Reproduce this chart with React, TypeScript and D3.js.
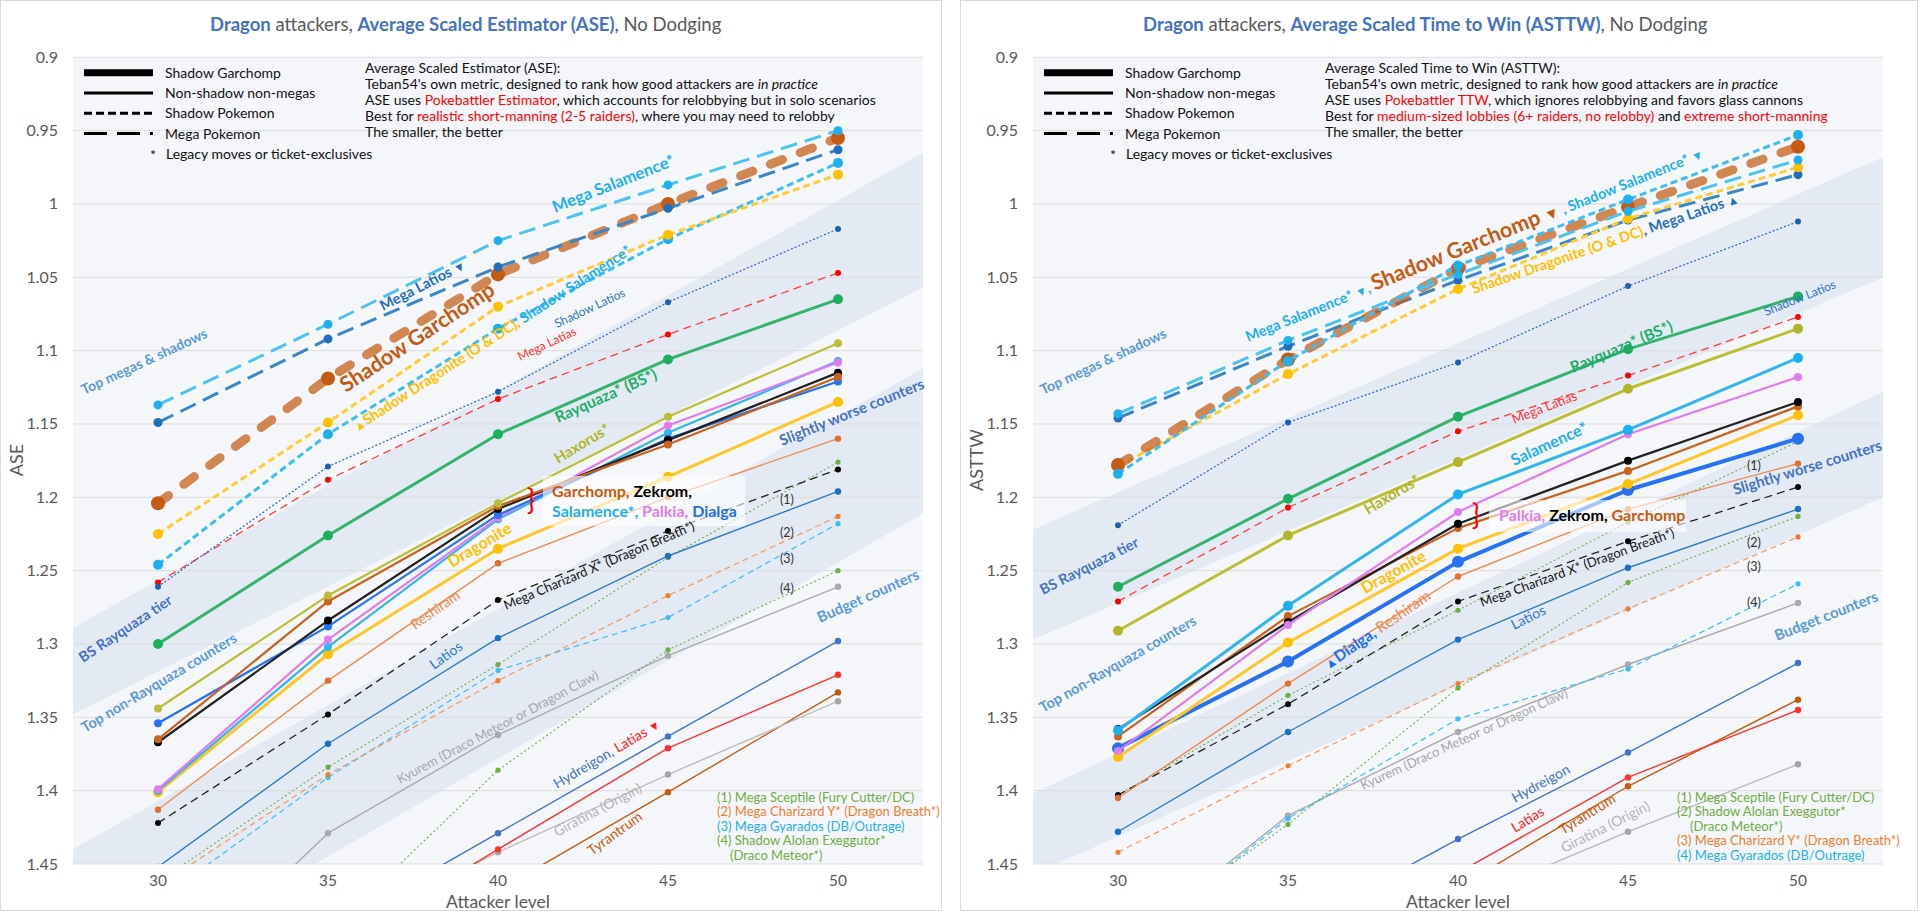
import React from "react";
import * as d3 from "d3";

// ---------- DATA ----------
const levels = [30, 35, 40, 45, 50];
const xTickLabels = ["30", "35", "40", "45", "50"];
const yTickValues = [0.9, 0.95, 1, 1.05, 1.1, 1.15, 1.2, 1.25, 1.3, 1.35, 1.4, 1.45];

// ASE (left chart)
const aseMegaSalamence = [1.137, 1.082, 1.025, 0.987, 0.95];
const aseMegaLatios = [1.149, 1.092, 1.043, 1.003, 0.963];
const aseShadowGarchomp = [1.204, 1.119, 1.048, 1.0, 0.955];
const aseShadowDragonite = [1.225, 1.149, 1.07, 1.021, 0.98];
const aseShadowSalamence = [1.246, 1.157, 1.085, 1.024, 0.972];
const aseShadowLatios = [1.261, 1.179, 1.128, 1.067, 1.017];
const aseMegaLatias = [1.258, 1.188, 1.133, 1.089, 1.047];
const aseRayquaza = [1.3, 1.226, 1.157, 1.106, 1.065];
const aseHaxorus = [1.344, 1.267, 1.204, 1.145, 1.095];
const aseGarchomp = [1.365, 1.271, 1.206, 1.164, 1.118];
const aseZekrom = [1.367, 1.284, 1.208, 1.161, 1.115];
const aseDialga = [1.354, 1.288, 1.212, 1.16, 1.121];
const asePalkia = [1.399, 1.297, 1.214, 1.151, 1.108];
const aseSalamence = [1.4, 1.302, 1.215, 1.156, 1.107];
const aseDragonite = [1.401, 1.307, 1.235, 1.186, 1.135];
const aseReshiram = [1.413, 1.325, 1.245, 1.2, 1.16];
const aseMegaCharizardX = [1.422, 1.348, 1.27, 1.223, 1.181];
const aseLatios = [1.452, 1.368, 1.296, 1.24, 1.196];
const aseMegaSceptile = [1.462, 1.384, 1.314, 1.241, 1.176];
const aseMegaCharizardY = [1.465, 1.389, 1.325, 1.267, 1.213];
const aseMegaGyarados = [1.475, 1.391, 1.318, 1.282, 1.218];
const aseShadowExeggutor = [1.6, 1.497, 1.386, 1.304, 1.25];
const aseKyurem = [1.54, 1.429, 1.362, 1.308, 1.261];
const aseHydreigon = [1.56, 1.495, 1.429, 1.363, 1.298];
const aseLatias = [1.58, 1.51, 1.44, 1.371, 1.321];
const aseGiratina = [1.57, 1.5, 1.442, 1.389, 1.339];
const aseTyrantrum = [1.61, 1.54, 1.468, 1.401, 1.333];

// ASTTW (right chart)
const asttwMegaSalamence = [1.143, 1.093, 1.048, 1.005, 0.97];
const asttwMegaLatios = [1.146, 1.097, 1.052, 1.011, 0.98];
const asttwShadowGarchomp = [1.178, 1.106, 1.044, 1.002, 0.961];
const asttwShadowDragonite = [1.179, 1.116, 1.058, 1.01, 0.975];
const asttwShadowSalamence = [1.184, 1.107, 1.042, 0.997, 0.953];
const asttwShadowLatios = [1.219, 1.149, 1.108, 1.056, 1.012];
const asttwMegaLatias = [1.271, 1.207, 1.155, 1.117, 1.077];
const asttwRayquaza = [1.261, 1.201, 1.145, 1.099, 1.063];
const asttwHaxorus = [1.291, 1.226, 1.176, 1.126, 1.085];
const asttwSalamence = [1.359, 1.274, 1.198, 1.154, 1.105];
const asttwPalkia = [1.373, 1.287, 1.21, 1.157, 1.118];
const asttwZekrom = [1.358, 1.285, 1.218, 1.175, 1.135];
const asttwGarchomp = [1.363, 1.281, 1.221, 1.182, 1.138];
const asttwDragonite = [1.377, 1.299, 1.235, 1.191, 1.144];
const asttwDialga = [1.371, 1.312, 1.244, 1.195, 1.16];
const asttwReshiram = [1.405, 1.327, 1.254, 1.208, 1.177];
const asttwMegaCharizardX = [1.403, 1.341, 1.271, 1.23, 1.193];
const asttwLatios = [1.428, 1.36, 1.297, 1.248, 1.208];
const asttwMegaSceptile = [1.403, 1.335, 1.277, 1.217, 1.162];
const asttwShadowExeggutor = [1.505, 1.423, 1.33, 1.258, 1.213];
const asttwMegaCharizardY = [1.442, 1.383, 1.327, 1.276, 1.227];
const asttwMegaGyarados = [1.51, 1.419, 1.351, 1.317, 1.259];
const asttwKyurem = [1.509, 1.417, 1.36, 1.314, 1.272];
const asttwHydreigon = [1.56, 1.496, 1.433, 1.374, 1.313];
const asttwLatias = [1.59, 1.52, 1.456, 1.391, 1.345];
const asttwTyrantrum = [1.6, 1.53, 1.466, 1.397, 1.338];
const asttwGiratina = [1.57, 1.52, 1.477, 1.428, 1.382];

// tier bands: [value at left edge top, right edge top, right edge bottom, left edge bottom]
const aseBands = [
  [1.289, 0.965, 1.057, 1.348],
  [1.44, 1.112, 1.211, 1.545],
];
const asttwBands = [
  [1.222, 0.968, 1.05, 1.297],
  [1.402, 1.128, 1.2, 1.457],
];

// ---------- STYLE ----------
const FONT = "Lato, 'Open Sans', 'Liberation Sans', sans-serif";
const BLUE_T = "#4472C4";
const GRAY_T = "#595959";
const X0 = 73, X1 = 923, Y0 = 57.3, Y1 = 864;

type St = { w: number; dash?: string; cap?: string; r: number; op?: number };
const ST: Record<string, St> = {
  sg: { w: 9, dash: "13,19", cap: "round", r: 7, op: 0.72 },
  mega: { w: 3, dash: "17,8", r: 4.5 },
  shadow: { w: 3, dash: "7,4", r: 5 },
  dotted: { w: 1.3, dash: "2,2", r: 3 },
  dash: { w: 1.3, dash: "8,5", r: 3 },
  thick: { w: 3, r: 5 },
  thicker: { w: 4, r: 6 },
  med: { w: 2.2, r: 4 },
  thin: { w: 1.4, r: 3.2 },
  tdot: { w: 1.1, dash: "2,2.5", r: 2.6 },
  tdash: { w: 1.2, dash: "6,4", r: 2.6 },
};

type Ser = { v: number[]; c: string; s: string; dc?: string };

const aseSeries: Ser[] = [
  { v: aseTyrantrum, c: "#C55A11", s: "thin" },
  { v: aseGiratina, c: "#BDBDBD", s: "thin", dc: "#A6A6A6" },
  { v: aseLatias, c: "#FF3030", s: "thin" },
  { v: aseHydreigon, c: "#4472C4", s: "thin" },
  { v: aseKyurem, c: "#AAAAAA", s: "thin" },
  { v: aseShadowExeggutor, c: "#70AD47", s: "tdot" },
  { v: aseMegaGyarados, c: "#3DBEF0", s: "tdash" },
  { v: aseMegaCharizardY, c: "#F19A5E", s: "tdash", dc: "#ED7D31" },
  { v: aseMegaSceptile, c: "#70AD47", s: "tdot" },
  { v: aseLatios, c: "#2F7BC8", s: "thin", dc: "#1F6FC0" },
  { v: aseMegaCharizardX, c: "#222222", s: "dash", dc: "#000" },
  { v: aseReshiram, c: "#EC8A4F", s: "thin", dc: "#E07030" },
  { v: aseDragonite, c: "#FFC629", s: "thick", dc: "#FFC000" },
  { v: aseSalamence, c: "#33B5EE", s: "med" },
  { v: asePalkia, c: "#DF7CF0", s: "med" },
  { v: aseDialga, c: "#2672F2", s: "med" },
  { v: aseZekrom, c: "#222222", s: "med", dc: "#000" },
  { v: aseGarchomp, c: "#C8631E", s: "med" },
  { v: aseHaxorus, c: "#BCBF35", s: "med" },
  { v: aseRayquaza, c: "#33B36B", s: "thick", dc: "#1DAE5E" },
  { v: aseMegaLatias, c: "#FF3B3B", s: "dash", dc: "#FF0000" },
  { v: aseShadowLatios, c: "#2E6FC0", s: "dotted", dc: "#1F5FB0" },
  { v: aseShadowSalamence, c: "#3DBEF0", s: "shadow", dc: "#1EB0EE" },
  { v: aseShadowDragonite, c: "#FFCC33", s: "shadow", dc: "#FFC000" },
  { v: aseShadowGarchomp, c: "#C55A11", s: "sg", dc: "#C55A11" },
  { v: aseMegaLatios, c: "#3A86C8", s: "mega", dc: "#1F6FC0" },
  { v: aseMegaSalamence, c: "#4DC3F0", s: "mega", dc: "#1EB0EE" },
];

const asttwSeries: Ser[] = [
  { v: asttwGiratina, c: "#BDBDBD", s: "thin", dc: "#A6A6A6" },
  { v: asttwTyrantrum, c: "#C55A11", s: "thin" },
  { v: asttwLatias, c: "#FF3030", s: "thin" },
  { v: asttwHydreigon, c: "#4472C4", s: "thin" },
  { v: asttwKyurem, c: "#AAAAAA", s: "thin" },
  { v: asttwMegaGyarados, c: "#3DBEF0", s: "tdash" },
  { v: asttwMegaCharizardY, c: "#F19A5E", s: "tdash", dc: "#ED7D31" },
  { v: asttwShadowExeggutor, c: "#70AD47", s: "tdot" },
  { v: asttwMegaSceptile, c: "#70AD47", s: "tdot" },
  { v: asttwLatios, c: "#2F7BC8", s: "thin", dc: "#1F6FC0" },
  { v: asttwMegaCharizardX, c: "#222222", s: "dash", dc: "#000" },
  { v: asttwReshiram, c: "#EC8A4F", s: "thin", dc: "#E07030" },
  { v: asttwDialga, c: "#2672F2", s: "thicker" },
  { v: asttwDragonite, c: "#FFC629", s: "thick", dc: "#FFC000" },
  { v: asttwGarchomp, c: "#C8631E", s: "med" },
  { v: asttwZekrom, c: "#222222", s: "med", dc: "#000" },
  { v: asttwPalkia, c: "#DF7CF0", s: "med" },
  { v: asttwSalamence, c: "#33B5EE", s: "thick", dc: "#1EB0EE" },
  { v: asttwHaxorus, c: "#BCBF35", s: "thick", dc: "#B2B52A" },
  { v: asttwRayquaza, c: "#33B36B", s: "thick", dc: "#1DAE5E" },
  { v: asttwMegaLatias, c: "#FF3B3B", s: "dash", dc: "#FF0000" },
  { v: asttwShadowLatios, c: "#2E6FC0", s: "dotted", dc: "#1F5FB0" },
  { v: asttwMegaLatios, c: "#3A86C8", s: "mega", dc: "#1F6FC0" },
  { v: asttwShadowDragonite, c: "#FFCC33", s: "shadow", dc: "#FFC000" },
  { v: asttwShadowGarchomp, c: "#C55A11", s: "sg", dc: "#C55A11" },
  { v: asttwMegaSalamence, c: "#4DC3F0", s: "mega", dc: "#1EB0EE" },
  { v: asttwShadowSalamence, c: "#3DBEF0", s: "shadow", dc: "#1EB0EE" },
];

type Part = { t: string; c?: string; b?: boolean; s?: number; i?: boolean };
type Lab = { x: number; y: number; r: number; s: number; b?: boolean; c?: string; parts: Part[] };

const LB = "#1EB0EE";
const aseLabels: Lab[] = [
  { x: 84, y: 395, r: -25, s: 14, b: true, c: "#5B9BD5", parts: [{ t: "Top megas & shadows" }] },
  { x: 555, y: 213, r: -21.7, s: 16.5, b: true, c: LB, parts: [{ t: "Mega Salamence*" }] },
  { x: 383, y: 311, r: -27, s: 14.5, b: true, c: "#1F6FC0", parts: [{ t: "Mega Latios " }, { t: "▼", s: 12 }] },
  { x: 346, y: 393, r: -33.5, s: 21.5, b: true, c: "#C55A11", parts: [{ t: "Shadow Garchomp" }] },
  { x: 357, y: 432, r: -33, s: 14.5, b: true, parts: [{ t: "▲", c: "#FFC000", s: 12 }, { t: "Shadow Dragonite (O & DC),", c: "#FFC000" }, { t: " Shadow Salamence*", c: LB }] },
  { x: 557, y: 328, r: -25, s: 12, c: "#2E75B6", parts: [{ t: "Shadow Latios" }] },
  { x: 520, y: 361, r: -25, s: 12, c: "#FF3030", parts: [{ t: "Mega Latias" }] },
  { x: 558, y: 423, r: -24, s: 15.5, b: true, c: "#1DAE6A", parts: [{ t: "Rayquaza* (BS*)" }] },
  { x: 558, y: 464, r: -31, s: 15, b: true, c: "#B2B52A", parts: [{ t: "Haxorus*" }] },
  { x: 782, y: 446, r: -22, s: 15, b: true, c: "#4472C4", parts: [{ t: "Slightly worse counters" }] },
  { x: 452, y: 568, r: -31, s: 16, b: true, c: "#FFC000", parts: [{ t: "Dragonite" }] },
  { x: 506, y: 610, r: -23, s: 13, c: "#111", parts: [{ t: "Mega Charizard X* (Dragon Breath*)" }] },
  { x: 415, y: 630, r: -35, s: 14, c: "#EC8A4F", parts: [{ t: "Reshiram" }] },
  { x: 434, y: 670, r: -36, s: 14, c: "#2F7BC8", parts: [{ t: "Latios" }] },
  { x: 820, y: 623, r: -24, s: 15, b: true, c: "#5B9BD5", parts: [{ t: "Budget counters" }] },
  { x: 83, y: 663, r: -33.7, s: 14.5, b: true, c: "#4472C4", parts: [{ t: "BS Rayquaza tier" }] },
  { x: 85, y: 733, r: -31, s: 14.5, b: true, c: "#5B9BD5", parts: [{ t: "Top non-Rayquaza counters" }] },
  { x: 400, y: 784, r: -28, s: 13, c: "#A6A6A6", parts: [{ t: "Kyurem (Draco Meteor or Dragon Claw)" }] },
  { x: 557, y: 789, r: -30.6, s: 14, parts: [{ t: "Hydreigon,", c: "#4472C4" }, { t: " Latias ", c: "#FF2020" }, { t: "▼", c: "#FF2020", s: 12 }] },
  { x: 557, y: 837, r: -28, s: 14, c: "#B4B4B4", parts: [{ t: "Giratina (Origin)" }] },
  { x: 592, y: 856, r: -36, s: 14, c: "#C55A11", parts: [{ t: "Tyrantrum" }] },
];

const asttwLabels: Lab[] = [
  { x: 83, y: 395, r: -25, s: 14, b: true, c: "#5B9BD5", parts: [{ t: "Top megas & shadows" }] },
  { x: 288, y: 342, r: -22, s: 14.5, b: true, parts: [{ t: "Mega Salamence* ", c: LB }, { t: "▼", c: LB, s: 12 }, { t: ", ", c: LB }, { t: "Shadow Garchomp ", c: "#C55A11", s: 21.5 }, { t: "▼", c: "#C55A11", s: 15 }, { t: " , Shadow Salamence* ", c: LB }, { t: "▼", c: LB, s: 12 }] },
  { x: 514, y: 294, r: -19, s: 14.5, b: true, parts: [{ t: "Shadow Dragonite (O & DC)", c: "#FFC000" }, { t: ", Mega Latios ", c: "#1F6FC0" }, { t: "▲", c: "#1F6FC0", s: 12 }] },
  { x: 806, y: 316, r: -22, s: 12, c: "#2E75B6", parts: [{ t: "Shadow Latios" }] },
  { x: 613, y: 373, r: -23, s: 15.5, b: true, c: "#1DAE6A", parts: [{ t: "Rayquaza* (BS*)" }] },
  { x: 554, y: 424, r: -21, s: 13, c: "#FF3030", parts: [{ t: "Mega Latias" }] },
  { x: 408, y: 515, r: -31, s: 15, b: true, c: "#B2B52A", parts: [{ t: "Haxorus*" }] },
  { x: 554, y: 466, r: -24.6, s: 16, b: true, c: LB, parts: [{ t: "Salamence*" }] },
  { x: 405, y: 594, r: -29, s: 16, b: true, c: "#FFC000", parts: [{ t: "Dragonite" }] },
  { x: 368, y: 670, r: -34.6, s: 15.5, b: true, parts: [{ t: "▲", c: "#1F6FF0", s: 13 }, { t: "Dialga,", c: "#1F6FF0" }, { t: " Reshiram", c: "#EC8A4F", b: false }] },
  { x: 522, y: 607, r: -20, s: 13, c: "#111", parts: [{ t: "Mega Charizard X* (Dragon Breath*)" }] },
  { x: 554, y: 630, r: -26.6, s: 14, c: "#2F7BC8", parts: [{ t: "Latios" }] },
  { x: 775, y: 495, r: -17, s: 15, b: true, c: "#4472C4", parts: [{ t: "Slightly worse counters" }] },
  { x: 817, y: 641, r: -21.6, s: 15, b: true, c: "#5B9BD5", parts: [{ t: "Budget counters" }] },
  { x: 83, y: 595, r: -27, s: 14.5, b: true, c: "#4472C4", parts: [{ t: "BS Rayquaza tier" }] },
  { x: 83, y: 713, r: -30, s: 14.5, b: true, c: "#5B9BD5", parts: [{ t: "Top non-Rayquaza counters" }] },
  { x: 403, y: 790, r: -24.5, s: 13, c: "#A6A6A6", parts: [{ t: "Kyurem (Draco Meteor or Dragon Claw)" }] },
  { x: 555, y: 803, r: -28.7, s: 14, c: "#4472C4", parts: [{ t: "Hydreigon" }] },
  { x: 555, y: 833, r: -31.6, s: 14, c: "#FF2020", parts: [{ t: "Latias" }] },
  { x: 603, y: 835, r: -32, s: 14, c: "#C55A11", parts: [{ t: "Tyrantrum" }] },
  { x: 604, y: 853, r: -26.6, s: 14, c: "#B4B4B4", parts: [{ t: "Giratina (Origin)" }] },
];

const aseNumberTags = [
  { t: "(1)", x: 780, y: 504 },
  { t: "(2)", x: 780, y: 537 },
  { t: "(3)", x: 780, y: 563 },
  { t: "(4)", x: 780, y: 593 },
];
const asttwNumberTags = [
  { t: "(1)", x: 787, y: 470 },
  { t: "(2)", x: 787, y: 547 },
  { t: "(3)", x: 787, y: 571 },
  { t: "(4)", x: 787, y: 607 },
];

const aseFootnotes = [
  { t: "(1) Mega Sceptile (Fury Cutter/DC)", c: "#70AD47", dx: 0 },
  { t: "(2) Mega Charizard Y* (Dragon Breath*)", c: "#ED7D31", dx: 0 },
  { t: "(3) Mega Gyarados (DB/Outrage)", c: "#1EB0EE", dx: 0 },
  { t: "(4) Shadow Alolan Exeggutor*", c: "#70AD47", dx: 0 },
  { t: "(Draco Meteor*)", c: "#70AD47", dx: 13 },
];
const asttwFootnotes = [
  { t: "(1) Mega Sceptile (Fury Cutter/DC)", c: "#70AD47", dx: 0 },
  { t: "(2) Shadow Alolan Exeggutor*", c: "#70AD47", dx: 0 },
  { t: "(Draco Meteor*)", c: "#70AD47", dx: 13 },
  { t: "(3) Mega Charizard Y* (Dragon Breath*)", c: "#ED7D31", dx: 0 },
  { t: "(4) Mega Gyarados (DB/Outrage)", c: "#1EB0EE", dx: 0 },
];

const aseDesc: Part[][] = [
  [{ t: "Average Scaled Estimator (ASE):" }],
  [{ t: "Teban54's own metric, designed to rank how good attackers are " }, { t: "in practice", i: true }],
  [{ t: "ASE uses " }, { t: "Pokebattler Estimator", c: "#FF0000" }, { t: ", which accounts for relobbying but in solo scenarios" }],
  [{ t: "Best for " }, { t: "realistic short-manning (2-5 raiders)", c: "#FF0000" }, { t: ", where you may need to relobby" }],
  [{ t: "The smaller, the better" }],
];
const asttwDesc: Part[][] = [
  [{ t: "Average Scaled Time to Win (ASTTW):" }],
  [{ t: "Teban54's own metric, designed to rank how good attackers are " }, { t: "in practice", i: true }],
  [{ t: "ASE uses " }, { t: "Pokebattler TTW", c: "#FF0000" }, { t: ", which ignores relobbying and favors glass cannons" }],
  [{ t: "Best for " }, { t: "medium-sized lobbies (6+ raiders, no relobby)", c: "#FF0000" }, { t: " and " }, { t: "extreme short-manning", c: "#FF0000" }],
  [{ t: "The smaller, the better" }],
];

const legendItems = [
  { t: "Shadow Garchomp", w: 7, dash: undefined as string | undefined },
  { t: "Non-shadow non-megas", w: 3, dash: undefined },
  { t: "Shadow Pokemon", w: 3, dash: "8,4" },
  { t: "Mega Pokemon", w: 3, dash: "23,10,23,10,3,100" },
];

type PanelCfg = {
  id: string;
  ox: number;
  pw: number;
  titleX: number;
  titleMid: string;
  yLabel: string;
  series: Ser[];
  labels: Lab[];
  bands: number[][];
  tags: { t: string; x: number; y: number }[];
  foot: { t: string; c: string; dx: number }[];
  desc: Part[][];
  box: { x: number; y: number; w: number; h: number; tx: number; lines: Part[][]; bx: number; by: number };
};

const x = d3.scaleLinear().domain([27.5, 52.5]).range([X0, X1]);
const y = d3.scaleLinear().domain([0.9, 1.45]).range([Y0, Y1]);

function Label({ l }: { l: Lab }) {
  return (
    <text
      transform={`translate(${l.x},${l.y}) rotate(${l.r})`}
      fontSize={l.s}
      fontWeight={l.b ? 700 : 400}
      fill={l.c}
      fontFamily={FONT}
    >
      {l.parts.map((p, i) => (
        <tspan key={i} fill={p.c || l.c} fontSize={p.s || l.s} fontWeight={p.b === false ? 400 : undefined}>
          {p.t}
        </tspan>
      ))}
    </text>
  );
}

function Panel({ cfg }: { cfg: PanelCfg }) {
  const line = d3
    .line<number>()
    .x((_, i) => x(levels[i]))
    .y((v) => y(v));
  const clipId = `clip-${cfg.id}`;
  return (
    <g transform={`translate(${cfg.ox},0)`}>
      <rect x={0.5} y={0.5} width={cfg.pw} height={910} fill="#fff" stroke="#D9D9D9" />
      {/* title */}
      <text x={cfg.titleX} y={31} fontSize={18.5} fontFamily={FONT} fill={GRAY_T}>
        <tspan fontWeight={700} fill={BLUE_T}>Dragon</tspan>
        <tspan> attackers, </tspan>
        <tspan fontWeight={700} fill={BLUE_T}>{cfg.titleMid}</tspan>
        <tspan>, No Dodging</tspan>
      </text>
      <defs>
        <clipPath id={clipId}>
          <rect x={X0} y={Y0} width={X1 - X0} height={Y1 - Y0} />
        </clipPath>
      </defs>
      <rect x={X0} y={Y0} width={X1 - X0} height={Y1 - Y0} fill="#F4F6FA" />
      <g clipPath={`url(#${clipId})`}>
        {cfg.bands.map((b, i) => (
          <polygon
            key={i}
            points={[
              [x(27.5), y(b[0])],
              [x(52.5), y(b[1])],
              [x(52.5), y(b[2])],
              [x(27.5), y(b[3])],
            ]
              .map((p) => p.join(","))
              .join(" ")}
            fill="#E4EAF4"
          />
        ))}
      </g>
      {yTickValues.map((v) => (
        <g key={v}>
          <line x1={X0} x2={X1} y1={y(v)} y2={y(v)} stroke="#DCDCDC" strokeWidth={1} />
          <text x={58} y={y(v) + 5.5} textAnchor="end" fontSize={16} fill={GRAY_T} fontFamily={FONT}>
            {String(+v.toFixed(2))}
          </text>
        </g>
      ))}
      {levels.map((lv, i) => (
        <text key={lv} x={x(lv)} y={886} textAnchor="middle" fontSize={15.5} fill={GRAY_T} fontFamily={FONT}>
          {xTickLabels[i]}
        </text>
      ))}
      <text x={(X0 + X1) / 2} y={908} textAnchor="middle" fontSize={17.5} fill={GRAY_T} fontFamily={FONT}>
        Attacker level
      </text>
      <text transform={`translate(23,${460}) rotate(-90)`} textAnchor="middle" fontSize={18} fill={GRAY_T} fontFamily={FONT}>
        {cfg.yLabel}
      </text>
      {/* legend */}
      {legendItems.map((it, i) => (
        <g key={it.t}>
          <line x1={84} x2={153} y1={72.7 + i * 20.3} y2={72.7 + i * 20.3} stroke="#000" strokeWidth={it.w} strokeDasharray={it.dash} />
          <text x={165} y={77.8 + i * 20.3} fontSize={14} fontFamily={FONT} fill="#111">
            {it.t}
          </text>
        </g>
      ))}
      <text x={150} y={159.5} fontSize={14} fontFamily={FONT} fill="#111">*</text>
      <text x={166} y={159} fontSize={14} fontFamily={FONT} fill="#111">Legacy moves or ticket-exclusives</text>
      {cfg.desc.map((ln, i) => (
        <text key={i} x={365} y={73 + i * 16} fontSize={14} fontFamily={FONT} fill="#111">
          {ln.map((p, j) => (
            <tspan key={j} fill={p.c} fontStyle={p.i ? "italic" : undefined}>
              {p.t}
            </tspan>
          ))}
        </text>
      ))}
      {/* series */}
      <g clipPath={`url(#${clipId})`}>
        {cfg.series.map((s, i) => {
          const st = ST[s.s];
          return (
            <g key={i}>
              <path
                d={line(s.v) || ""}
                fill="none"
                stroke={s.c}
                strokeWidth={st.w}
                strokeDasharray={st.dash}
                strokeLinecap={(st.cap as any) || "butt"}
                strokeLinejoin="round"
                opacity={st.op}
              />
              {s.v.map((v, j) => (
                <circle key={j} cx={x(levels[j])} cy={y(v)} r={st.r} fill={s.dc || s.c} />
              ))}
            </g>
          );
        })}
      </g>
      {/* group label box */}
      <rect x={cfg.box.x} y={cfg.box.y} width={cfg.box.w} height={cfg.box.h} fill="#FFFFFF" opacity={0.6} />
      {cfg.box.lines.map((ln, i) => (
        <text key={i} x={cfg.box.tx} y={cfg.box.y + 21 + i * 19.5} fontSize={16} fontWeight={700} fontFamily={FONT}>
          {ln.map((p, j) => (
            <tspan key={j} fill={p.c}>
              {p.t}
            </tspan>
          ))}
        </text>
      ))}
      <text x={cfg.box.bx} y={cfg.box.by} fontSize={28} fill="#FF0000" fontFamily={FONT} textAnchor="middle">
        {"}"}
      </text>
      {cfg.labels.map((l, i) => (
        <Label key={i} l={l} />
      ))}
      {cfg.tags.map((t) => (
        <text key={t.t} x={t.x} y={t.y} fontSize={12.5} fill="#333" fontFamily={FONT}>
          {t.t}
        </text>
      ))}
      {cfg.foot.map((f, i) => (
        <text key={i} x={717 + f.dx} y={802 + i * 14.4} fontSize={13} fill={f.c} fontFamily={FONT}>
          {f.t}
        </text>
      ))}
    </g>
  );
}

const leftCfg: PanelCfg = {
  id: "ase",
  ox: 0,
  pw: 941,
  titleX: 210,
  titleMid: "Average Scaled Estimator (ASE)",
  yLabel: "ASE",
  series: aseSeries,
  labels: aseLabels,
  bands: aseBands,
  tags: aseNumberTags,
  foot: aseFootnotes,
  desc: aseDesc,
  box: {
    x: 543, y: 476, w: 202, h: 50, tx: 552,
    lines: [
      [{ t: "Garchomp, ", c: "#C55A11" }, { t: "Zekrom,", c: "#000" }],
      [{ t: "Salamence*, ", c: LB }, { t: "Palkia, ", c: "#DF7CF0" }, { t: "Dialga", c: "#1F6FF0" }],
    ],
    bx: 531, by: 510,
  },
};

const rightCfg: PanelCfg = {
  id: "asttw",
  ox: 960,
  pw: 957,
  titleX: 183,
  titleMid: "Average Scaled Time to Win (ASTTW)",
  yLabel: "ASTTW",
  series: asttwSeries,
  labels: asttwLabels,
  bands: asttwBands,
  tags: asttwNumberTags,
  foot: asttwFootnotes,
  desc: asttwDesc,
  box: {
    x: 529, y: 500, w: 197, h: 32, tx: 539,
    lines: [[{ t: "Palkia, ", c: "#DF7CF0" }, { t: "Zekrom, ", c: "#000" }, { t: "Garchomp", c: "#C55A11" }]],
    bx: 516, by: 525,
  },
};

export default function App() {
  return (
    <svg
      width={1920}
      height={912}
      style={{ position: "absolute", left: 0, top: 0, background: "#fff" }}
      fontFamily={FONT}
    >
      <Panel cfg={leftCfg} />
      <Panel cfg={rightCfg} />
    </svg>
  );
}
